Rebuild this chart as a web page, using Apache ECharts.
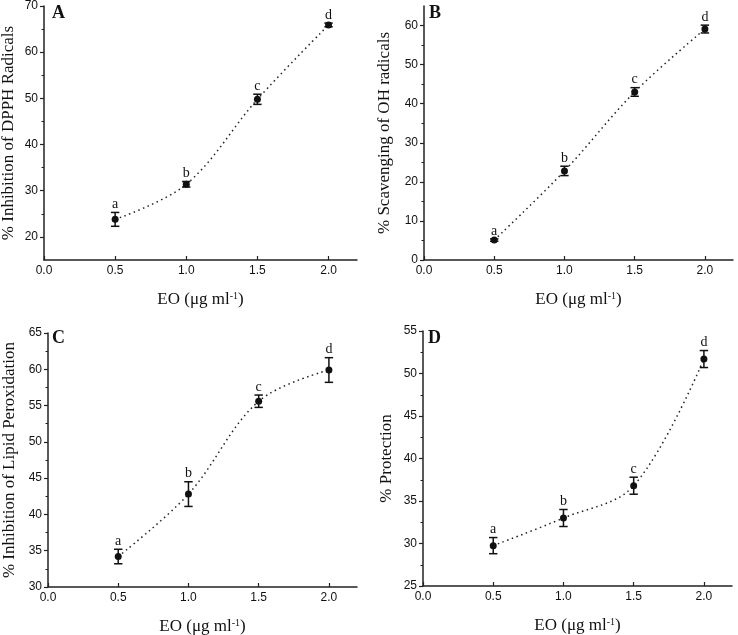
<!DOCTYPE html>
<html>
<head>
<meta charset="utf-8">
<script src="https://cdn.jsdelivr.net/npm/echarts@6/dist/echarts.min.js"></script>
<style>
html,body{margin:0;padding:0;background:#fff;}
#chart{width:738px;height:635px;}
</style>
</head>
<body>
<div id="chart"></div>
<script>
// ---- data ----
const xValues = [0.5, 1.0, 1.5, 2.0];
const groupLetters = ['a', 'b', 'c', 'd'];
const xTicks = [0, 0.5, 1.0, 1.5, 2.0];

const dpphMean = [23.8, 31.4, 49.8, 65.9];
const dpphErr = [1.5, 0.6, 1.1, 0.4];
const dpphTicks = [20, 30, 40, 50, 60, 70];
const dpphMinor = [25, 35, 45, 55, 65];

const ohMean = [5.1, 22.8, 43.0, 59.1];
const ohErr = [0.3, 1.2, 1.1, 1.0];
const ohTicks = [0, 10, 20, 30, 40, 50, 60];
const ohMinor = [5, 15, 25, 35, 45, 55];

const lipidMean = [34.2, 42.8, 55.6, 59.9];
const lipidErr = [1.0, 1.7, 0.85, 1.7];
const lipidTicks = [30, 35, 40, 45, 50, 55, 60, 65];
const lipidMinor = [32.5, 37.5, 42.5, 47.5, 52.5, 57.5, 62.5];

const protMean = [29.75, 33.0, 36.8, 51.7];
const protErr = [0.95, 1.0, 1.0, 1.0];
const protTicks = [25, 30, 35, 40, 45, 50, 55];
const protMinor = [27.5, 32.5, 37.5, 42.5, 47.5, 52.5];

const panelLabels = ['A', 'B', 'C', 'D'];
const yNames = ['% Inhibition of DPPH Radicals', '% Scavenging of OH radicals', '% Inhibition of Lipid Peroxidation', '% Protection'];
const xName = 'EO (μg ml{sup|-1})';

const panels = [
  {mean: dpphMean, err: dpphErr, ticks: dpphTicks, minor: dpphMinor, min: 15, max: 70},
  {mean: ohMean, err: ohErr, ticks: ohTicks, minor: ohMinor, min: 0, max: 65},
  {mean: lipidMean, err: lipidErr, ticks: lipidTicks, minor: lipidMinor, min: 30, max: 65},
  {mean: protMean, err: protErr, ticks: protTicks, minor: protMinor, min: 25, max: 55}
];

// ---- layout (styles) ----
const layout = [
  {grid: {left: 44, top: 6, width: 313, height: 254}, yGap: 27, label: {left: 52, top: 4}},
  {grid: {left: 424, top: 6, width: 309, height: 254}, yGap: 31, label: {left: 429, top: 4}},
  {grid: {left: 48, top: 333, width: 309, height: 254}, yGap: 30, label: {left: 52, top: 329}},
  {grid: {left: 423, top: 331, width: 309, height: 255}, yGap: 28, label: {left: 428, top: 329}}
];

const ink = '#111';
const axisColor = '#222';
const serif = 'Liberation Serif';
const sans = 'Liberation Sans';

const option = {
  animation: false,
  backgroundColor: '#fff',
  title: [], grid: [], xAxis: [], yAxis: [], series: []
};

panels.forEach((p, i) => {
  const L = layout[i];
  option.grid.push(Object.assign({outerBoundsMode: 'none', containLabel: false}, L.grid));
  option.title.push({
    text: panelLabels[i], left: L.label.left, top: L.label.top, padding: 0,
    textStyle: {fontFamily: serif, fontWeight: 'bold', fontSize: 18, color: ink}
  });
  option.xAxis.push({
    type: 'value', gridIndex: i, min: 0, max: 2.2,
    axisLine: {onZero: false, lineStyle: {color: axisColor, width: 1.5}},
    axisTick: {show: true, inside: true, length: 4, customValues: xTicks, lineStyle: {color: axisColor, width: 1.2}},
    axisLabel: {customValues: xTicks, formatter: v => Number(v).toFixed(1), fontFamily: sans, fontSize: 12, color: ink, margin: 5},
    splitLine: {show: false},
    name: xName, nameLocation: 'middle', nameGap: 31,
    nameTextStyle: {fontFamily: serif, fontSize: 17, color: ink,
      rich: {sup: {fontFamily: serif, fontSize: 10, color: ink, verticalAlign: 'top', lineHeight: 10, padding: [0, 0, 8, 0]}}}
  });
  option.yAxis.push({
    type: 'value', gridIndex: i, min: p.min, max: p.max,
    axisLine: {show: true, onZero: false, lineStyle: {color: axisColor, width: 1.5}},
    axisTick: {show: true, inside: false, length: 4, customValues: p.ticks, lineStyle: {color: axisColor, width: 1.2}},
    axisLabel: {customValues: p.ticks, formatter: v => String(Math.round(v)), fontFamily: sans, fontSize: 12, color: ink, margin: 6},
    splitLine: {show: false},
    name: yNames[i], nameLocation: 'middle', nameGap: L.yGap, nameRotate: 90,
    nameTextStyle: {fontFamily: serif, fontSize: 17, color: ink}
  });
  option.yAxis.push({
    type: 'value', gridIndex: i, min: p.min, max: p.max, position: 'left',
    axisLine: {show: false, onZero: false},
    axisTick: {show: true, inside: false, length: 2.5, customValues: p.minor, lineStyle: {color: axisColor, width: 1}},
    axisLabel: {show: false},
    splitLine: {show: false}
  });
  const pts = xValues.map((x, j) => [x, p.mean[j]]);
  option.series.push({
    type: 'line', xAxisIndex: i, yAxisIndex: 2 * i, data: pts,
    smooth: 0.35, symbol: 'circle', symbolSize: 7,
    itemStyle: {color: ink},
    lineStyle: {color: '#222', width: 1.5, type: [1.5, 3.5]},
    z: 2
  });
  option.series.push({
    type: 'custom', xAxisIndex: i, yAxisIndex: 2 * i,
    data: xValues.map((x, j) => [x, p.mean[j], p.err[j]]),
    z: 3,
    renderItem: (params, api) => {
      const x = api.value(0), m = api.value(1), e = api.value(2);
      const top = api.coord([x, m + e]);
      const bot = api.coord([x, m - e]);
      const hw = 4.2;
      const st = {stroke: ink, lineWidth: 1.5};
      return {
        type: 'group',
        children: [
          {type: 'line', shape: {x1: top[0], y1: top[1], x2: bot[0], y2: bot[1]}, style: st},
          {type: 'line', shape: {x1: top[0] - hw, y1: top[1], x2: top[0] + hw, y2: top[1]}, style: st},
          {type: 'line', shape: {x1: bot[0] - hw, y1: bot[1], x2: bot[0] + hw, y2: bot[1]}, style: st},
          {type: 'text', style: {text: groupLetters[params.dataIndex], x: top[0], y: top[1] - 1,
            align: 'center', verticalAlign: 'bottom', textAlign: 'center', textVerticalAlign: 'bottom',
            fontFamily: serif, fontSize: 14, fill: ink}}
        ]
      };
    }
  });
});

const chart = echarts.init(document.getElementById('chart'), null, {renderer: 'canvas'});
chart.setOption(option);
</script>
</body>
</html>
